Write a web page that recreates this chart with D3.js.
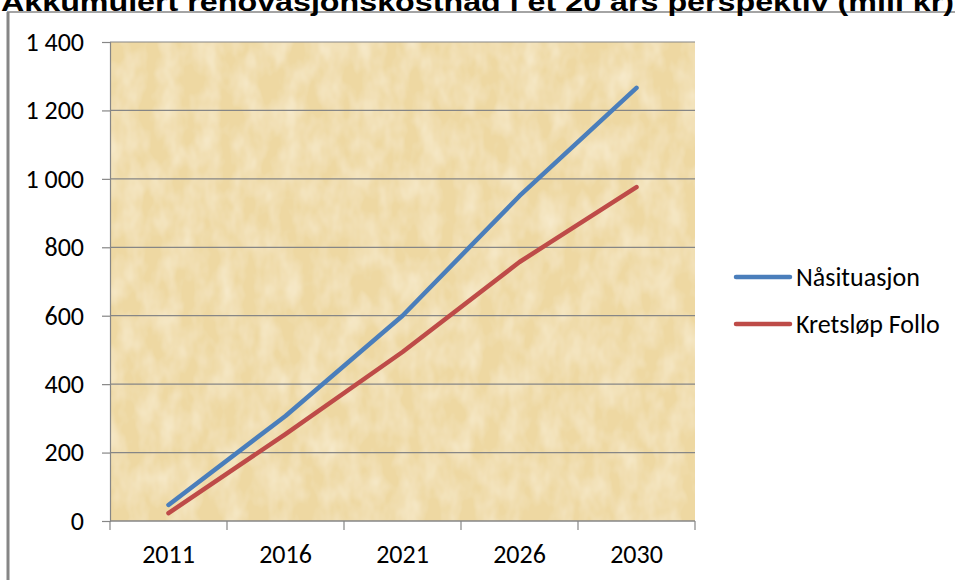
<!DOCTYPE html>
<html>
<head>
<meta charset="utf-8">
<script src="https://cdn.jsdelivr.net/npm/d3@7"></script>
<style>
  body { margin: 0; background: #fff; }
  svg { display: block; }
</style>
</head>
<body>
<div id="chart"></div>
<script>
// Data (mill kr, accumulated)
var years = ["2011", "2016", "2021", "2026", "2030"];
var naasituasjon = [47, 307, 600, 950, 1266];
var kretslop = [23, 254, 494, 757, 976];
var seriesNames = ["Nåsituasjon", "Kretsløp Follo"];
var yTicks = [0, 200, 400, 600, 800, 1000, 1200, 1400];

var config = {
    width: 955,
    height: 580,
    plot: {left: 110, top: 42, right: 695, bottom: 521},
    colors: ["#4a7ebb", "#be4b48"],
    font: "Carlito, 'Open Sans', 'Noto Sans', sans-serif",
    fontSize: "26px"
};

var svg = d3.select("#chart").append("svg")
    .attr("width", config.width)
    .attr("height", config.height);

// papyrus-like texture for the plot background
var defs = svg.append("defs");
var filt = defs.append("filter").attr("id", "papyrus")
    .attr("x", 0).attr("y", 0).attr("width", 1).attr("height", 1);
filt.append("feTurbulence")
    .attr("type", "fractalNoise")
    .attr("baseFrequency", "0.05 0.03")
    .attr("numOctaves", 3)
    .attr("seed", 4)
    .attr("result", "noise");
filt.append("feColorMatrix")
    .attr("in", "noise")
    .attr("type", "matrix")
    .attr("values", "0 0 0 0 0.95  0 0 0 0 0.87  0 0 0 0 0.68  0 0 0 -1.2 0.8")
    .attr("result", "tint");
filt.append("feComposite").attr("in", "tint").attr("in2", "SourceGraphic").attr("operator", "over");

// Frame of the chart area (only top and left edges are visible)
svg.append("line").attr("x1", 8).attr("x2", 8).attr("y1", 12).attr("y2", config.height)
    .style("stroke", "#868686").style("stroke-width", 3);
svg.append("line").attr("x1", 7).attr("x2", config.width).attr("y1", 12).attr("y2", 12)
    .style("stroke", "#868686").style("stroke-width", 1.5);

// Title (partly cut off at the top, as in the original)
svg.append("text")
    .attr("x", 1)
    .attr("y", 11)
    .style("font-family", "'Liberation Sans', Arial, sans-serif")
    .style("font-weight", "bold")
    .style("font-size", "26px")
    .attr("textLength", 953)
    .attr("lengthAdjust", "spacingAndGlyphs")
    .text("Akkumulert renovasjonskostnad i et 20 års perspektiv (mill kr)");

var p = config.plot;
var x = d3.scaleBand().domain(years).range([p.left, p.right]);
var y = d3.scaleLinear().domain([0, 1400]).range([p.bottom, p.top]);

// plot background
svg.append("rect")
    .attr("x", p.left).attr("y", p.top)
    .attr("width", p.right - p.left).attr("height", p.bottom - p.top)
    .style("fill", "#eed8a2");
svg.append("rect")
    .attr("x", p.left).attr("y", p.top)
    .attr("width", p.right - p.left).attr("height", p.bottom - p.top)
    .style("fill", "#eed8a2")
    .attr("filter", "url(#papyrus)");

// gridlines
svg.append("g").selectAll("line")
    .data(yTicks)
    .enter().append("line")
    .attr("x1", p.left).attr("x2", p.right)
    .attr("y1", function(d) { return y(d); })
    .attr("y2", function(d) { return y(d); })
    .style("stroke", "#868686").style("stroke-width", 1.2);

// Y axis
var fmt = function(d) { return d3.format(",")(d).replace(/,/g, " "); };
var yAxis = svg.append("g")
    .attr("transform", "translate(" + p.left + ",0)")
    .call(d3.axisLeft(y).tickValues(yTicks).tickSize(8).tickPadding(18).tickFormat(fmt));
yAxis.select(".domain").style("stroke", "#868686").style("stroke-width", 1.2);
yAxis.selectAll(".tick line").style("stroke", "#868686").style("stroke-width", 1.2);
yAxis.selectAll("text")
    .style("font-family", config.font).style("font-size", config.fontSize).style("fill", "#000");

// X axis: ticks at category boundaries
var xAxis = svg.append("g")
    .attr("transform", "translate(0," + p.bottom + ")")
    .call(d3.axisBottom(x).tickSize(0).tickPadding(24));
xAxis.select(".domain").remove();
xAxis.selectAll("text")
    .style("font-family", config.font).style("font-size", config.fontSize).style("fill", "#000");
svg.append("line").attr("x1", p.left).attr("x2", p.right)
    .attr("y1", p.bottom).attr("y2", p.bottom)
    .style("stroke", "#868686").style("stroke-width", 1.2);
var bounds = years.map(function(d) { return x(d); }).concat([x(years[years.length - 1]) + x.bandwidth()]);
svg.append("g").selectAll("line")
    .data(bounds)
    .enter().append("line")
    .attr("x1", function(d) { return d; }).attr("x2", function(d) { return d; })
    .attr("y1", p.bottom).attr("y2", p.bottom + 9)
    .style("stroke", "#868686").style("stroke-width", 1.2);

// Lines
var series = [naasituasjon, kretslop];
var line = d3.line()
    .x(function(d, i) { return x(years[i]) + x.bandwidth() / 2; })
    .y(function(d) { return y(d); });
svg.append("g").selectAll("path")
    .data(series)
    .enter().append("path")
    .attr("d", line)
    .style("fill", "none")
    .style("stroke", function(d, i) { return config.colors[i]; })
    .style("stroke-width", 4.5)
    .style("stroke-linecap", "round")
    .style("stroke-linejoin", "round");

// Legend
var legend = svg.selectAll(".legend")
    .data(seriesNames)
    .enter().append("g")
    .attr("class", "legend")
    .attr("transform", function(d, i) { return "translate(736," + (277 + i * 47) + ")"; });
legend.append("line")
    .attr("x1", 0).attr("x2", 54)
    .style("stroke", function(d, i) { return config.colors[i]; })
    .style("stroke-width", 4.5)
    .style("stroke-linecap", "round");
legend.append("text")
    .attr("x", 60).attr("y", 0).attr("dy", "0.35em")
    .style("font-family", config.font).style("font-size", config.fontSize)
    .text(function(d) { return d; });
</script>
</body>
</html>
